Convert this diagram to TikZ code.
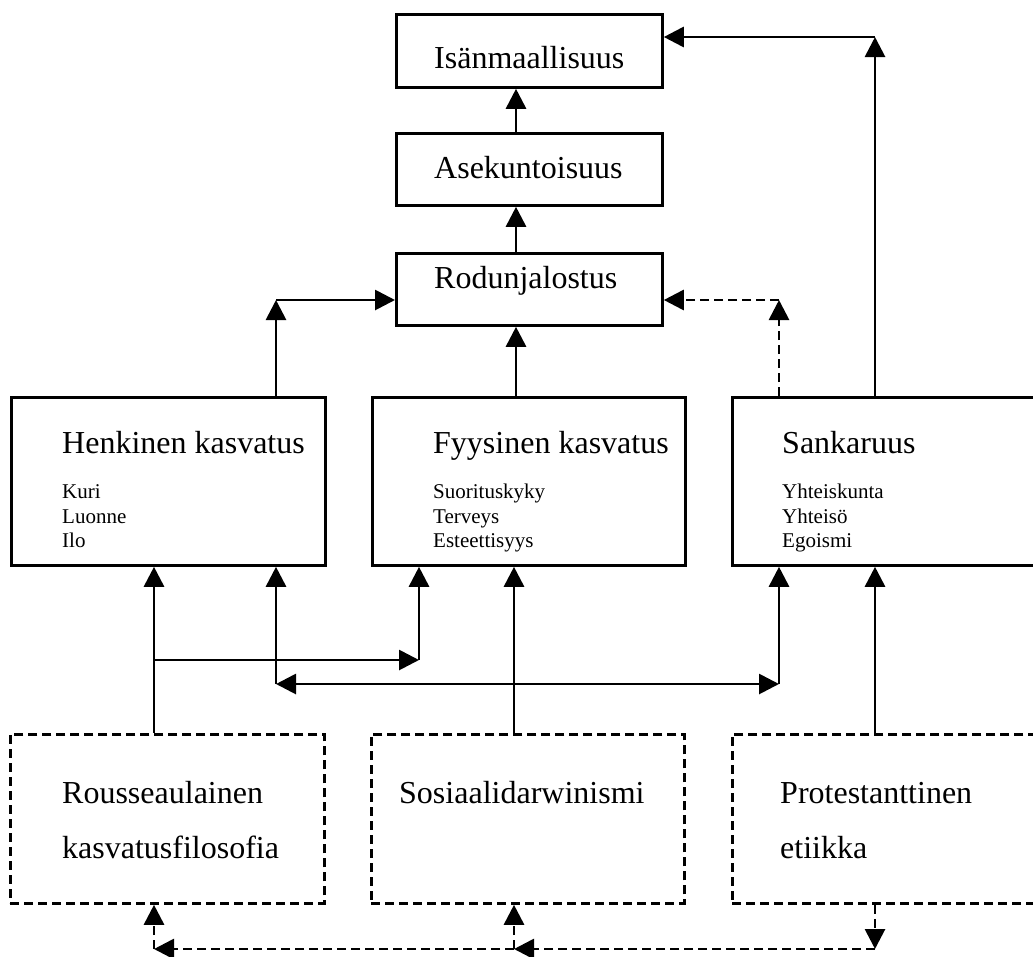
\documentclass[tikz,border=0pt]{standalone}
\usepackage{fontspec}
\setmainfont{Liberation Serif}
\usetikzlibrary{positioning, arrows.meta}

\begin{document}
\begin{tikzpicture}[
        x=1pt, y=-1pt,
        box/.style={
            rectangle,
            draw,
            line width=2.8pt,
            anchor=north west,
            inner sep=0pt
        },
        dbox/.style={box, dash pattern=on 9pt off 5pt},
        title/.style={anchor=base west, inner sep=0pt, font=\fontsize{32}{38}\selectfont},
        small/.style={anchor=base west, inner sep=0pt, font=\fontsize{21}{25}\selectfont},
        line/.style={draw, line width=2.8pt, -{Triangle[length=20pt, width=20pt]}},
        dline/.style={line, dash pattern=on 9pt off 5pt}
    ]
        \useasboundingbox (0,0) rectangle (1033,956);
        \clip (0,0) rectangle (1033,956);

        % Nodes
        \node [box, minimum width=266, minimum height=73] (isan) at (395,13) {};
        \node [box, minimum width=266, minimum height=72] (ase) at (395,132) {};
        \node [box, minimum width=266, minimum height=72] (rod) at (395,252) {};

        \node [box, minimum width=314, minimum height=168] (henk) at (10,396) {};
        \node [box, minimum width=313, minimum height=168] (fyys) at (371,396) {};
        \node [box, minimum width=320, minimum height=168] (sank) at (731,396) {};

        \node [dbox, minimum width=314, minimum height=169] (rous) at (9,733) {};
        \node [dbox, minimum width=313, minimum height=169] (sos) at (370,733) {};
        \node [dbox, minimum width=320, minimum height=169] (prot) at (731,733) {};

        % Texts
        \node [title] (isanlbl) at (434,68) {Isänmaallisuus};
        \node [title] (aselbl) at (434,178) {Asekuntoisuus};
        \node [title] (rodlbl) at (434,288) {Rodunjalostus};

        \node [title] (henklbl) at (62,453) {Henkinen kasvatus};
        \node [small] (henka) at (62,498) {Kuri};
        \node [small] (henkb) at (62,523) {Luonne};
        \node [small] (henkc) at (62,547) {Ilo};

        \node [title] (fyyslbl) at (433,453) {Fyysinen kasvatus};
        \node [small] (fyysa) at (433,498) {Suorituskyky};
        \node [small] (fyysb) at (433,523) {Terveys};
        \node [small] (fyysc) at (433,547) {Esteettisyys};

        \node [title] (sanklbl) at (782,453) {Sankaruus};
        \node [small] (sanka) at (782,498) {Yhteiskunta};
        \node [small] (sankb) at (782,523) {Yhteisö};
        \node [small] (sankc) at (782,547) {Egoismi};

        \node [title] (rouslbl) at (62,803) {Rousseaulainen};
        \node [title] (rouslblb) at (62,858) {kasvatusfilosofia};
        \node [title] (soslbl) at (399,803) {Sosiaalidarwinismi};
        \node [title] (protlbl) at (780,803) {Protestanttinen};
        \node [title] (protlblb) at (780,858) {etiikka};

        % Corners of the connectors
        \coordinate (cm) at (516,0);
        \coordinate (jhr) at (276,300);
        \coordinate (jsr) at (779,300);
        \coordinate (jsi) at (875,37);
        \coordinate (jrf) at (154,660);
        \coordinate (jrf2) at (419,660);
        \coordinate (jsl) at (276,684);
        \coordinate (jsm) at (514,684);
        \coordinate (jsr2) at (779,684);
        \coordinate (jb1) at (154,949);
        \coordinate (jb2) at (514,949);
        \coordinate (jb3) at (875,949);

        % Paths, upper part
        \path [line] (ase.north -| cm) -- (isan.south -| cm);
        \path [line] (rod.north -| cm) -- (ase.south -| cm);
        \path [line] (fyys.north -| cm) -- (rod.south -| cm);
        \path [line] (henk.north -| jhr) -- (jhr);
        \path [line] (jhr) -- (rod.west |- jhr);
        \path [dline] (sank.north -| jsr) -- (jsr);
        \path [dline] (jsr) -- (rod.east |- jsr);
        \path [line] (sank.north -| jsi) -- (jsi);
        \path [line] (jsi) -- (isan.east |- jsi);

        % Paths, lower part
        \path [line] (rous.north -| jrf) -- (henk.south -| jrf);
        \path [line] (jrf) -- (jrf2);
        \path [line] (jrf2) -- (fyys.south -| jrf2);
        \path [line] (sos.north -| jsm) -- (fyys.south -| jsm);
        \path [line] (jsm) -- (jsl);
        \path [line] (jsl) -- (henk.south -| jsl);
        \path [line] (jsm) -- (jsr2);
        \path [line] (jsr2) -- (sank.south -| jsr2);
        \path [line] (prot.north -| jsi) -- (sank.south -| jsi);

        % Dashed links below the boxes
        \path [dline] (prot.south -| jb3) -- (jb3);
        \path [dline] (jb3) -- (jb2);
        \path [dline] (jb2) -- (sos.south -| jb2);
        \path [dline] (jb2) -- (jb1);
        \path [dline] (jb1) -- (rous.south -| jb1);
    \end{tikzpicture}
\end{document}
